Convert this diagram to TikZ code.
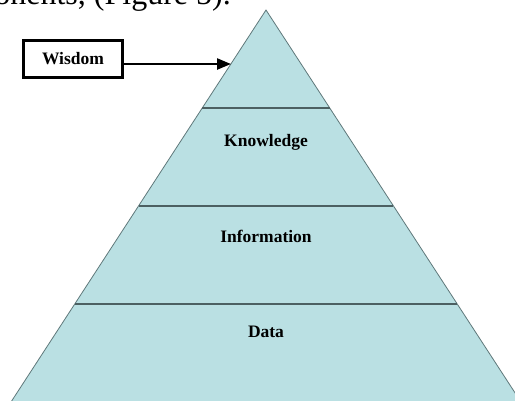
\documentclass[tikz,border=0pt]{standalone}
\usepackage{fontspec}
\setmainfont{Liberation Serif}
\usetikzlibrary{arrows.meta}
\usetikzlibrary{positioning}

\definecolor{pyrfill}{RGB}{186,224,227}
\definecolor{pyredge}{RGB}{95,120,122}

\begin{document}
\begin{tikzpicture}[x=1pt, y=-1pt,
    lbl/.style={font=\fontsize{17.5}{20}\selectfont\bfseries},
    layer/.style={draw=pyredge!80!black, line width=1.2pt}]
    \clip (0, 0) rectangle (515, 400);
    % caption line, cut off by the top edge
    \node[anchor=base east, inner sep=0pt, font=\fontsize{32}{36}\selectfont] (caption) at (231, 4) {ponents, (Figure 5).};
    % the pyramid
    \coordinate (apex) at (266, 10);
    \coordinate (baseL) at (11, 402);
    \coordinate (baseR) at (521, 402);
    \filldraw[fill=pyrfill, draw=pyredge, line width=0.8pt] (apex) -- (baseL) -- (baseR) -- cycle;
    \foreach \y in {108, 206, 304} {
      \draw[layer] ({266-0.65*(\y-10)}, \y) -- ({266+0.65*(\y-10)}, \y);
    }
    \node[lbl] (knowledge) at (266, 142) {Knowledge};
    \node[lbl] (information) at (266, 236) {Information};
    \node[lbl] (data) at (266, 332) {Data};
    % wisdom box and arrow
    \node[lbl, draw, fill=white, line width=3.4pt, minimum width=98.6pt, minimum height=36.6pt] (wisdom) at (73, 59) {Wisdom};
    \coordinate (tip) at (231, 64);
    \draw[-{Triangle[length=14pt, width=11pt]}, line width=2.4pt] (wisdom.east |- tip) -- (tip);
\end{tikzpicture}
\end{document}
